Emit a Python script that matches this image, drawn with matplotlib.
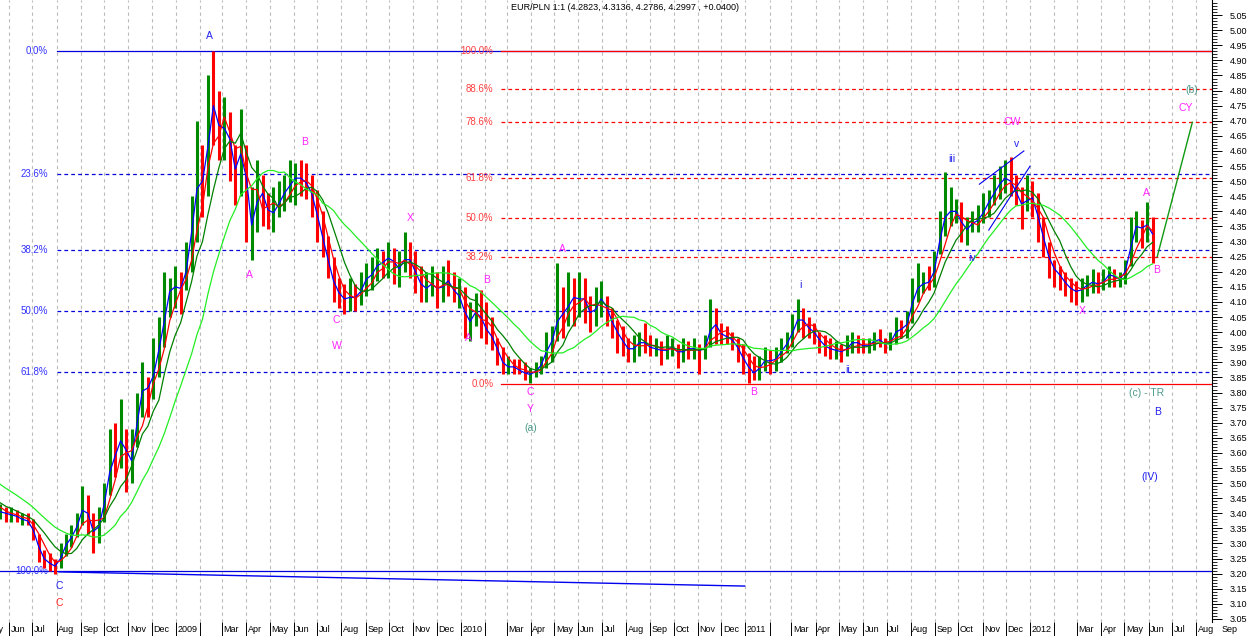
import matplotlib
matplotlib.use("Agg")
import matplotlib.pyplot as plt
import matplotlib.dates as mdates
import numpy as np
import pandas as pd

plt.rcParams['font.family'] = ['Liberation Sans', 'DejaVu Sans']

# weekly EUR/PLN bars, one value per Friday starting 2008-02-01
# (the first weeks sit left of the visible range and only feed the averages)
week_high = [
    3.65, 3.63, 3.61, 3.60, 3.59,  # 2008 Feb
    3.60, 3.59, 3.58, 3.56,
    3.54, 3.51, 3.49, 3.47,
    3.47, 3.46, 3.44, 3.43, 3.42,
    3.42, 3.41, 3.40, 3.40,
    3.38, 3.33, 3.28, 3.27,
    3.25, 3.30, 3.33, 3.36, 3.40,
    3.49, 3.46, 3.40, 3.42,
    3.50, 3.68, 3.70, 3.78, 3.68,
    3.68, 3.80, 3.90, 3.85,
    3.98, 4.05, 4.20, 4.18,
    4.22, 4.20, 4.30, 4.45, 4.70,  # 2009 Jan
    4.62, 4.85, 4.93, 4.80,
    4.78, 4.73, 4.62, 4.74,
    4.62, 4.48, 4.57, 4.52,
    4.46, 4.48, 4.50, 4.52, 4.57,
    4.56, 4.57, 4.56, 4.52,
    4.47, 4.40, 4.32, 4.25, 4.18,
    4.16, 4.18, 4.16, 4.20,
    4.23, 4.25, 4.28, 4.27,
    4.30, 4.28, 4.27, 4.33, 4.30,
    4.27, 4.22, 4.20, 4.22,
    4.20, 4.22, 4.24, 4.20,
    4.18, 4.15, 4.10, 4.13, 4.14,  # 2010 Jan
    4.10, 4.05, 3.98, 3.95,
    3.92, 3.91, 3.91, 3.90,
    3.88, 3.90, 3.92, 4.00, 4.02,
    4.23, 4.15, 4.20, 4.18,
    4.20, 4.18, 4.12, 4.15,
    4.17, 4.12, 4.08, 4.04, 4.02,
    3.98, 3.99, 4.00, 4.03,
    3.99, 3.98, 3.97, 3.99,
    3.98, 3.96, 3.98, 3.97, 3.98,
    3.96, 3.99, 4.11, 4.08,
    4.03, 4.02, 4.00, 3.98, 3.96,
    3.93, 3.92, 3.92, 3.95,  # 2011 Jan
    3.94, 3.95, 3.98, 4.00,
    4.06, 4.11, 4.08, 4.05,
    4.03, 4.00, 3.99, 3.98, 3.97,
    3.96, 3.99, 4.00, 3.99,
    3.98, 3.98, 4.00, 4.01,
    3.98, 4.00, 4.05, 4.04, 4.07,
    4.18, 4.23, 4.20, 4.22,
    4.27, 4.40, 4.53, 4.48, 4.44,
    4.43, 4.38, 4.40, 4.42,
    4.46, 4.47, 4.52, 4.55,
    4.57, 4.58, 4.52, 4.48, 4.52,
    4.50, 4.46, 4.38, 4.30,  # 2012 Jan
    4.24, 4.22, 4.20, 4.18,
    4.17, 4.18, 4.19, 4.21, 4.20,
    4.21, 4.22, 4.21, 4.20,
    4.24, 4.38, 4.40, 4.37,
    4.43, 4.38,
]
week_low = [
    3.58, 3.56, 3.55, 3.54, 3.53,  # 2008 Feb
    3.53, 3.52, 3.50, 3.48,
    3.46, 3.44, 3.42, 3.41,
    3.41, 3.40, 3.38, 3.38, 3.37,
    3.37, 3.37, 3.36, 3.36,
    3.31, 3.24, 3.22, 3.21,
    3.20, 3.22, 3.26, 3.29, 3.32,
    3.36, 3.33, 3.27, 3.30,
    3.37, 3.46, 3.52, 3.55, 3.47,
    3.50, 3.62, 3.72, 3.72,
    3.78, 3.85, 3.95, 4.05,
    4.08, 4.06, 4.14, 4.20, 4.30,  # 2009 Jan
    4.38, 4.45, 4.62, 4.57,
    4.57, 4.50, 4.42, 4.45,
    4.30, 4.24, 4.33, 4.35,
    4.34, 4.33, 4.38, 4.40, 4.43,
    4.42, 4.45, 4.44, 4.38,
    4.30, 4.25, 4.18, 4.10, 4.08,
    4.06, 4.07, 4.07, 4.09,
    4.12, 4.14, 4.17, 4.18,
    4.18, 4.16, 4.15, 4.20, 4.18,
    4.13, 4.10, 4.10, 4.12,
    4.08, 4.10, 4.12, 4.10,
    4.08, 3.98, 3.97, 4.02, 3.98,  # 2010 Jan
    3.96, 3.94, 3.89, 3.86,
    3.86, 3.86, 3.86, 3.84,
    3.83, 3.85, 3.86, 3.88, 3.90,
    3.97, 3.98, 4.02, 4.02,
    4.05, 4.03, 4.00, 4.02,
    4.05, 4.02, 3.98, 3.93, 3.92,
    3.90, 3.90, 3.92, 3.93,
    3.92, 3.92, 3.89, 3.91,
    3.92, 3.88, 3.90, 3.91, 3.91,
    3.86, 3.91, 3.95, 3.96,
    3.96, 3.96, 3.94, 3.90, 3.86,
    3.83, 3.84, 3.84, 3.87,  # 2011 Jan
    3.86, 3.87, 3.90, 3.93,
    3.95, 4.00, 3.98, 3.98,
    3.96, 3.93, 3.92, 3.91, 3.91,
    3.90, 3.92, 3.93, 3.93,
    3.93, 3.93, 3.94, 3.95,
    3.93, 3.94, 3.96, 3.98, 3.98,
    4.03, 4.10, 4.13, 4.14,
    4.15, 4.26, 4.32, 4.35, 4.36,
    4.30, 4.29, 4.33, 4.33,
    4.36, 4.38, 4.42, 4.44,
    4.46, 4.45, 4.42, 4.34, 4.40,
    4.38, 4.30, 4.25, 4.18,  # 2012 Jan
    4.15, 4.14, 4.12, 4.10,
    4.09, 4.10, 4.12, 4.13, 4.13,
    4.14, 4.15, 4.15, 4.15,
    4.16, 4.22, 4.30, 4.28,
    4.30, 4.23,
]
week_close = [
    3.62, 3.60, 3.58, 3.57, 3.56,  # 2008 Feb
    3.57, 3.56, 3.54, 3.52,
    3.49, 3.47, 3.45, 3.44,
    3.44, 3.43, 3.40, 3.41, 3.39,
    3.40, 3.38, 3.38, 3.37,
    3.32, 3.26, 3.24, 3.23,
    3.22, 3.28, 3.31, 3.33, 3.38,
    3.44, 3.36, 3.32, 3.39,
    3.47, 3.60, 3.58, 3.70, 3.52,
    3.63, 3.76, 3.85, 3.78,
    3.93, 3.95, 4.12, 4.15,
    4.15, 4.14, 4.26, 4.40, 4.55,  # 2009 Jan
    4.45, 4.78, 4.72, 4.65,
    4.70, 4.58, 4.50, 4.68,
    4.35, 4.36, 4.50, 4.42,
    4.39, 4.40, 4.45, 4.47, 4.50,
    4.52, 4.50, 4.49, 4.43,
    4.35, 4.28, 4.20, 4.14, 4.12,
    4.10, 4.13, 4.10, 4.17,
    4.18, 4.20, 4.24, 4.22,
    4.27, 4.20, 4.22, 4.26, 4.22,
    4.18, 4.14, 4.15, 4.17,
    4.12, 4.18, 4.16, 4.12,
    4.12, 4.02, 4.05, 4.08, 4.02,  # 2010 Jan
    4.00, 3.97, 3.92, 3.88,
    3.89, 3.88, 3.87, 3.86,
    3.86, 3.88, 3.90, 3.97, 3.97,
    4.10, 4.02, 4.15, 4.08,
    4.14, 4.08, 4.05, 4.10,
    4.12, 4.05, 4.02, 3.98, 3.96,
    3.93, 3.96, 3.97, 3.96,
    3.94, 3.95, 3.93, 3.95,
    3.95, 3.92, 3.95, 3.94, 3.95,
    3.93, 3.96, 4.05, 4.00,
    3.99, 3.98, 3.97, 3.93, 3.90,
    3.87, 3.86, 3.90, 3.91,  # 2011 Jan
    3.90, 3.92, 3.95, 3.97,
    4.02, 4.06, 4.02, 4.01,
    3.99, 3.96, 3.95, 3.94, 3.94,
    3.93, 3.96, 3.97, 3.96,
    3.95, 3.96, 3.98, 3.97,
    3.95, 3.98, 4.02, 4.00, 4.05,
    4.14, 4.15, 4.17, 4.16,
    4.24, 4.36, 4.40, 4.40, 4.40,
    4.33, 4.35, 4.37, 4.37,
    4.42, 4.44, 4.48, 4.50,
    4.52, 4.48, 4.45, 4.40, 4.47,
    4.42, 4.35, 4.28, 4.22,  # 2012 Jan
    4.20, 4.18, 4.15, 4.14,
    4.13, 4.15, 4.16, 4.17, 4.15,
    4.18, 4.20, 4.17, 4.18,
    4.22, 4.34, 4.36, 4.33,
    4.38, 4.27,
]

# moving averages (weeks) and their colours: blue, red, dark green, light green
ma_weeks = [2, 4, 7, 15]
ma_colors = ['#0000ff', '#ff0000', '#008000', '#22ee22']

# Fibonacci retracements
fib_left = (3.209, 4.931)
fib_left_levels = [0.0, 0.236, 0.382, 0.5, 0.618, 1.0]
fib_right = (3.828, 4.931)
fib_right_levels = [1.0, 0.886, 0.786, 0.618, 0.5, 0.382, 0.0]

# wave labels: date, price, text, colour
MAG = '#ff22ff'
BLU = '#2222ee'
TEAL = '#4a9a8a'
wave_labels = [
    ("2009-02-13", 4.980, "A", BLU),
    ("2009-06-15", 4.629, "B", MAG),
    ("2009-04-05", 4.189, "A", MAG),
    ("2009-07-26", 4.040, "C", MAG),
    ("2009-07-26", 3.954, "W", MAG),
    ("2009-10-28", 4.378, "X", MAG),
    ("2010-01-11", 3.980, "A", MAG),
    ("2010-02-03", 4.172, "B", MAG),
    ("2010-03-31", 3.802, "C", MAG),
    ("2010-03-31", 3.745, "Y", MAG),
    ("2010-04-01", 3.682, "(a)", TEAL),
    ("2010-05-12", 4.275, "A", MAG),
    ("2011-01-12", 3.802, "B", MAG),
    ("2011-03-13", 4.156, "i", BLU),
    ("2011-05-12", 3.874, "ii", BLU),
    ("2011-09-22", 4.573, "iii", BLU),
    ("2011-10-19", 4.245, "iv", BLU),
    ("2011-12-15", 4.623, "v", BLU),
    ("2011-12-09", 4.696, "CW", MAG),
    ("2012-03-08", 4.070, "X", MAG),
    ("2012-05-29", 4.461, "A", MAG),
    ("2012-06-11", 4.206, "B", MAG),
    ("2012-07-19", 4.742, "CY", MAG),
    ("2012-07-26", 4.802, "(b)", TEAL),
    ("2012-05-29", 3.798, "(c) - TR", TEAL),
    ("2012-06-12", 3.735, "B", BLU),
    ("2012-06-03", 3.520, "(IV)", BLU),
    ("2008-08-05", 3.159, "C", BLU),
    ("2008-08-05", 3.103, "C", '#ff2020'),
]

# hand-drawn lines: (date, price) pairs
trend_line = [("2008-08-04", 3.206), ("2010-12-31", 3.159)]
wedge_upper = [("2011-10-28", 4.490), ("2011-12-24", 4.600)]
wedge_lower = [("2011-11-09", 4.338), ("2012-01-01", 4.550)]
projection = [("2012-06-12", 4.250), ("2012-07-27", 4.695)]

# ---------------------------------------------------------------
assert len(week_high) == len(week_low) == len(week_close)
dates = pd.date_range("2008-02-01", periods=len(week_close), freq="W-FRI")
closes = pd.Series(week_close, index=dates)
opens = closes.shift(1).fillna(closes.iloc[0])
bar_x = mdates.date2num(dates - pd.Timedelta(days=2))

fig = plt.figure(figsize=(12.5, 6.36), dpi=100)
ax = fig.add_axes([0, 14 / 636, 1212 / 1250, 622 / 636])

x0 = mdates.date2num(pd.Timestamp("2009-01-01"))
xmin, xmax = x0 - 225.6, x0 + 1328.2

# month grid and bottom labels
months = pd.date_range("2008-05-01", "2012-09-01", freq="MS")
ax.set_xticks(mdates.date2num(months))
ax.grid(axis='x', color='#bbbbbb', linestyle=(0, (3, 3)), linewidth=0.8)
ax.set_axisbelow(True)
ax.tick_params(axis='x', direction='out', length=10, width=0.7, labelbottom=False)
for m in months:
    if m.month == 2:
        continue
    lab = str(m.year) if m.month == 1 else m.strftime('%b')
    ax.text(mdates.date2num(m) + 2, -0.0125, lab, transform=ax.get_xaxis_transform(),
            ha='left', va='center', fontsize=6.5, clip_on=False)

# right price axis
ax.yaxis.tick_right()
ax.set_yticks(np.arange(3.05, 5.051, 0.05))
ax.set_yticks(np.arange(3.05, 5.10, 0.01), minor=True)
ax.yaxis.set_major_formatter(matplotlib.ticker.FormatStrFormatter('%.2f'))
ax.tick_params(axis='y', which='major', length=7, width=0.7, labelsize=6.5, pad=6)
ax.tick_params(axis='y', which='minor', length=3.5, width=0.6)
for s in ['top', 'left', 'bottom']:
    ax.spines[s].set_visible(False)
ax.spines['right'].set_linewidth(0.8)

# limits after the ticks, since set_xticks widens the view
ax.set_xlim(xmin, xmax)
ax.set_ylim(3.040, 5.100)

# fibonacci levels
left_start = mdates.date2num(pd.Timestamp("2008-08-01"))
left_label = mdates.date2num(pd.Timestamp("2008-07-21"))
lo, hi = fib_left
for lv in fib_left_levels:
    p = hi - lv * (hi - lo)
    solid = lv in (0.0, 1.0)
    start = xmin if lv == 1.0 else left_start
    ax.plot([start, xmax], [p, p], color='#0000dd', lw=0.9,
            linestyle='-' if solid else (0, (3, 2.5)), zorder=2)
    ax.text(left_label, p, f"{lv * 100:.1f}%", color='#3333ff', fontsize=7,
            ha='right', va='center', zorder=3)

right_start = mdates.date2num(pd.Timestamp("2010-02-22"))
right_label = mdates.date2num(pd.Timestamp("2010-02-12"))
lo, hi = fib_right
for lv in fib_right_levels:
    p = lo + lv * (hi - lo)
    solid = lv in (0.0, 1.0)
    ax.plot([right_start, xmax], [p, p], color='#ff0000', lw=0.9,
            linestyle='-' if solid else (0, (3, 2.5)), zorder=2)
    ax.text(right_label, p, f"{lv * 100:.1f}%", color='#ff4040', fontsize=7,
            ha='right', va='center', zorder=3)

# price bars
bar_colors = np.where(closes.values >= opens.values, '#008a00', '#ff0000')
ax.vlines(bar_x, week_low, week_high, colors=bar_colors, linewidth=2.2, zorder=4)

# moving averages
for w, c in zip(ma_weeks, ma_colors):
    ma = closes.rolling(w, min_periods=1).mean()
    ax.plot(bar_x, ma.values, color=c, lw=0.9, zorder=5)


def draw_line(pts, color, lw):
    xs = [mdates.date2num(pd.Timestamp(d)) for d, _ in pts]
    ys = [p for _, p in pts]
    ax.plot(xs, ys, color=color, lw=lw, zorder=6)


draw_line(trend_line, '#0000ee', 1.0)
draw_line(wedge_upper, '#0000ee', 0.8)
draw_line(wedge_lower, '#0000ee', 0.8)
draw_line(projection, '#119911', 1.0)

for d, p, t, c in wave_labels:
    ax.text(mdates.date2num(pd.Timestamp(d)), p, t, color=c, fontsize=7.5,
            ha='center', va='center', zorder=7)

ax.text(0.5, 0.996, "EUR/PLN 1:1 (4.2823, 4.3136, 4.2786, 4.2997 , +0.0400)",
        transform=fig.transFigure, ha='center', va='top', fontsize=6.5)

ax.set_xlim(xmin, xmax)
fig.savefig("out.png", dpi=100)
